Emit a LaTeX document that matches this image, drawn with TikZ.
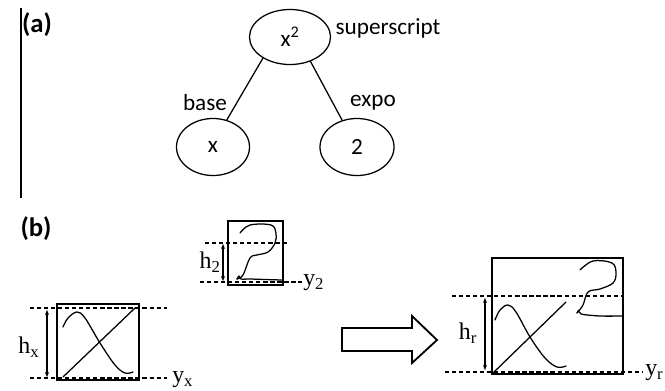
\documentclass[tikz,border=0pt]{standalone}
\usepackage{fontspec}
\setmainfont{Liberation Serif}
\setsansfont{Carlito}
\usetikzlibrary{arrows.meta, positioning, shapes.geometric}

\begin{document}
\begin{tikzpicture}[
    x=0.025cm, y=-0.025cm,
    elem/.style={draw, ellipse, line width=0.9pt, inner sep=0pt, font=\sffamily\fontsize{16.5}{19}\selectfont},
    tag/.style={font=\sffamily\fontsize{16.5}{19}\selectfont, inner sep=0pt},
    panel/.style={font=\sffamily\bfseries\fontsize{19}{22}\selectfont, inner sep=0pt},
    lbl/.style={font=\fontsize{17}{20}\selectfont, inner sep=0pt},
    guide/.style={dash pattern=on 3pt off 2pt, line width=0.9pt},
    frame/.style={line width=1pt},
    dim/.style={{Latex[length=4pt,width=3pt]}-{Latex[length=4pt,width=3pt]}, line width=0.9pt},
    stroke/.style={line width=0.9pt, line cap=round, line join=round}
]
\useasboundingbox (0,0) rectangle (665,390);

% (a) expression tree
\coordinate (rulet) at (21,8);
\coordinate (ruleb) at (21,198);
\draw[line width=0.9pt] (rulet) -- (ruleb);
\node[panel] (pa) at (37,25) {(a)};

\node[elem, minimum width=2.025cm, minimum height=1.375cm] (sup) at (290,37) {x\textsuperscript{2}};
\node[elem, minimum width=1.825cm, minimum height=1.425cm] (base) at (213,147) {x};
\node[elem, minimum width=1.85cm, minimum height=1.425cm] (expo) at (357,147) {2};

\draw[line width=0.9pt] (sup.218) -- (base.63);
\draw[line width=0.9pt] (sup.310) -- (expo.119);

\node[tag] (suplbl) at (388,28) {superscript};
\node[tag] (baselbl) at (205,103) {base};
\node[tag] (expolbl) at (373,103) {expo};

% (b) symbol boxes
\node[panel] (pb) at (36,229) {(b)};

% small box: 2
\draw[frame] (228,221) rectangle (283,285);
\coordinate (t2a) at (205,243); \coordinate (t2b) at (287,243);
\coordinate (b2a) at (200,282); \coordinate (b2b) at (302,282);
\draw[guide] (t2a) -- (t2b);
\draw[guide] (b2a) -- (b2b);
\coordinate (h2t) at (223,243); \coordinate (h2b) at (223,282);
\draw[dim] (h2t) -- (h2b);
\node[lbl, anchor=east] (h2) at (221,262) {h\textsubscript{2}};
\node[lbl, anchor=west] (y2) at (303,283) {y\textsubscript{2}};
\draw[stroke] plot[smooth, tension=0.6] coordinates {(240,233) (250,225) (271,225) (276,233) (275,243) (268,252) (257,255) (250,258) (243,275) (237,279)};
\draw[stroke] plot[smooth, tension=0.5] coordinates {(237,279) (239,276) (241,279) (250,279) (265,279.5) (282,280)};

% big box: x
\draw[frame] (57,304) rectangle (139,380);
\coordinate (txa) at (30,308); \coordinate (txb) at (167,308);
\coordinate (bxa) at (30,378); \coordinate (bxb) at (167,378);
\draw[guide] (txa) -- (txb);
\draw[guide] (bxa) -- (bxb);
\coordinate (hxt) at (47,309); \coordinate (hxb) at (47,378);
\draw[dim] (hxt) -- (hxb);
\node[lbl] (hx) at (29,347) {h\textsubscript{x}};
\node[lbl, anchor=west] (yx) at (172,380) {y\textsubscript{x}};
\draw[stroke] (63,377) -- (135,308);
\draw[stroke] plot[smooth, tension=0.6] coordinates {(63,327) (68,318) (77,312) (85,318) (100,343) (115,365) (125,373) (133,372)};

% hollow arrow
\draw[line width=1.3pt, line join=miter] (342,328) -- (412,328) -- (412,316) -- (437,340) -- (412,363) -- (412,351) -- (342,351) -- cycle;

% result box: x^2
\draw[frame] (492,258) rectangle (623,374);
\coordinate (tra) at (452,296); \coordinate (trb) at (622,296);
\coordinate (bra) at (445,372); \coordinate (brb) at (642,372);
\draw[guide] (tra) -- (trb);
\draw[guide] (bra) -- (brb);
\coordinate (hrt) at (485,297); \coordinate (hrb) at (485,371);
\draw[dim] (hrt) -- (hrb);
\node[lbl] (hr) at (468,333) {h\textsubscript{r}};
\node[lbl, anchor=west] (yr) at (645,373) {y\textsubscript{r}};
\draw[stroke] (493,373) -- (566,302);
\draw[stroke] plot[smooth, tension=0.6] coordinates {(495,320) (500,310) (508,305) (516,312) (530,337) (545,358) (557,367) (566,366)};
\draw[stroke] plot[smooth, tension=0.6] coordinates {(580,270) (593,261) (612,263) (616,273) (613,283) (600,289) (588,292) (583,305) (577,313)};
\draw[stroke] plot[smooth, tension=0.5] coordinates {(577,313) (579,310) (581,314) (600,316) (623,316)};

\end{tikzpicture}
\end{document}
